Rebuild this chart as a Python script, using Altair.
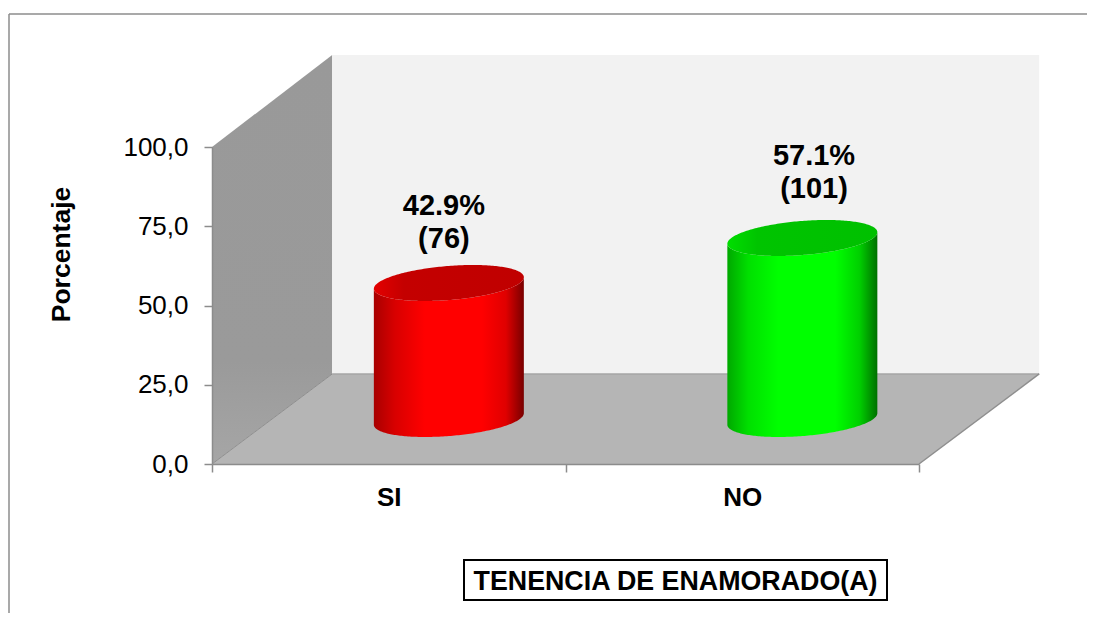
import numpy as np
import pandas as pd
import altair as alt

# ---- chart values ----
categories = ["SI", "NO"]
percents = [42.9, 57.1]
counts = [76, 101]
label_x = [0.656, 1.703]     # where the data labels sit on the category axis
label_y = [81.4, 97.1]       # and on the percentage axis
body_colors = [
    ["#a80000", "#d80000", "#ff0000", "#ff0000", "#e00000", "#780000"],
    ["#00a800", "#00e000", "#00ff00", "#00ff00", "#00d000", "#007000"],
]
lid_colors = [["#e40000", "#c40000", "#c00000"], ["#00de00", "#00c400", "#00c000"]]
y_ticks = [0, 25, 50, 75, 100]

# ---- scales of the plot area ----
X_DOMAIN = [0, 2]
Y_DOMAIN = [0, 100]
PLOT_W, PLOT_H = 707, 317
ux, uy = PLOT_W / 2, PLOT_H / 100      # pixels per unit

DEPTH_X, DEPTH_Y = 0.34, 28.4          # depth of the 3-D box in axis units
WALL_TOP = 129.0

xs = alt.Scale(domain=X_DOMAIN, nice=False, zero=False)
ys = alt.Scale(domain=Y_DOMAIN, nice=False, zero=False)
X = alt.X("x:Q", scale=xs)
Y = alt.Y("y:Q", scale=ys)


def area(df, **mark):
    return alt.Chart(df).mark_area(**mark).encode(x=X, y=Y, y2="y2:Q")


def lines(df, **mark):
    return alt.Chart(df).mark_line(**mark).encode(x=X, y=Y)


def grad(colors, stops, x1=0, x2=1, y1=0, y2=0):
    return alt.LinearGradient(
        gradient="linear",
        stops=[alt.GradientStop(offset=o, color=c) for o, c in zip(stops, colors)],
        x1=x1, x2=x2, y1=y1, y2=y2,
    )


left_wall = area(
    pd.DataFrame({"x": [0, DEPTH_X], "y": [0, DEPTH_Y], "y2": [100, WALL_TOP]}),
    color=grad(["#a6a6a6", "#9a9a9a", "#999999"], [0, 0.25, 1], x1=0, x2=0, y1=1, y2=0),
)
back_wall = area(
    pd.DataFrame({"x": [DEPTH_X, 2 + DEPTH_X], "y": [DEPTH_Y, DEPTH_Y], "y2": [WALL_TOP, WALL_TOP]}),
    color="#f2f2f2",
)
floor = area(
    pd.DataFrame({"x": [0, DEPTH_X, 2, 2 + DEPTH_X],
                  "y": [0, 0, 0, DEPTH_Y],
                  "y2": [0, DEPTH_Y, DEPTH_Y, DEPTH_Y]}),
    color="#b5b5b5",
)
floor_edges = [
    lines(pd.DataFrame({"x": [0, DEPTH_X], "y": [0, DEPTH_Y]}), color="#8e8e8e", strokeWidth=1),
    lines(pd.DataFrame({"x": [DEPTH_X, 2 + DEPTH_X], "y": [DEPTH_Y, DEPTH_Y]}), color="#a6a6a6", strokeWidth=1.5),
    lines(pd.DataFrame({"x": [2, 2 + DEPTH_X], "y": [0, DEPTH_Y]}), color="#8e8e8e", strokeWidth=1.5),
]

# Cylinder: a circle lying on the floor, sheared along the depth direction
R_PX = 75.0
RISE_PX = 18.0
PHI = np.arctan2(24.0, 71.0)
theta = np.linspace(0, np.pi, 121)
u = R_PX * np.cos(theta) / ux
upper = RISE_PX * np.sin(PHI + theta) / uy
lower = RISE_PX * np.sin(PHI - theta) / uy

cyl_layers = []
for i, pct in enumerate(percents):
    cx = i + 0.5 + DEPTH_X / 2
    cy = DEPTH_Y / 2
    body = pd.DataFrame({"x": cx + u, "y": cy + lower, "y2": cy + pct + lower}).sort_values("x")
    lid = pd.DataFrame({"x": cx + u, "y": cy + pct + lower, "y2": cy + pct + upper}).sort_values("x")
    cyl_layers.append(area(body, color=grad(body_colors[i], [0, 0.14, 0.34, 0.72, 0.88, 1])))
    cyl_layers.append(area(lid, color=grad(lid_colors[i], [0, 0.2, 1])))

labels = alt.Chart(pd.DataFrame({
    "x": label_x, "y": label_y,
    "t": [f"{p}%\n({c})" for p, c in zip(percents, counts)],
})).mark_text(font="Liberation Sans", fontWeight="bold", fontSize=29, lineBreak="\n",
              lineHeight=33, color="#000000", baseline="middle", align="center").encode(
    x=X, y=Y, text="t:N",
)

one = pd.DataFrame({"x": [0], "y": [0]})
title_box = alt.Chart(one).mark_rect(fill="white", stroke="#000000", strokeWidth=2).encode(
    x=alt.value(252), x2=alt.value(675), y=alt.value(413), y2=alt.value(453),
)
frame_top = alt.Chart(one).mark_rule(color="#8c8c8c", strokeWidth=1.5).encode(
    x=alt.value(-203), x2=alt.value(875), y=alt.value(-133),
)
frame_left = alt.Chart(one).mark_rule(color="#8c8c8c", strokeWidth=1.5).encode(
    x=alt.value(-203), y=alt.value(-133), y2=alt.value(466),
)

# Axes
axes = alt.Chart(one).mark_point(opacity=0).encode(
    x=alt.X("x:Q", scale=xs, title="TENENCIA DE ENAMORADO(A)",
            axis=alt.Axis(
                values=[0, 0.5, 1, 1.5, 2], grid=False, domainColor="#8c8c8c", domainWidth=1.5,
                tickColor="#8c8c8c", tickWidth=1.5, tickSize=8,
                tickOpacity={"condition": {"test": "datum.value % 1 === 0", "value": 1}, "value": 0},
                labelExpr="datum.value === 0.5 ? 'SI' : datum.value === 1.5 ? 'NO' : ''",
                labelFont="Liberation Sans", labelFontSize=26, labelFontWeight="bold",
                labelColor="#000000", labelPadding=12, labelAngle=0, labelOverlap=False,
                labelFlush=False,
                titleFont="Liberation Sans", titleFontSize=26.8, titleFontWeight="bold",
                titleColor="#000000", titleX=463, titleY=117, titleAlign="center",
                titleBaseline="middle", zindex=2)),
    y=alt.Y("y:Q", scale=ys, title="Porcentaje",
            axis=alt.Axis(
                values=y_ticks, grid=False, domainColor="#8c8c8c", domainWidth=1.5,
                tickColor="#8c8c8c", tickWidth=1.5, tickSize=8,
                labelExpr="replace(format(datum.value, '.1f'), '.', ',')",
                labelFont="Liberation Sans", labelFontSize=26, labelColor="#000000",
                labelPadding=16, labelOverlap=False, labelFlush=False,
                titleFont="Liberation Sans", titleFontSize=26.5, titleFontWeight="bold",
                titleColor="#000000", titleX=-137, titleY=107, titleAngle=270,
                titleAlign="center", zindex=2)),
)

chart = alt.layer(
    axes, frame_top, frame_left,
    left_wall, back_wall, floor, *floor_edges,
    *cyl_layers,
    labels, title_box,
).properties(
    width=PLOT_W, height=PLOT_H,
    padding={"left": 204, "top": 139, "right": 168, "bottom": 149},
    autosize=alt.AutoSizeParams(type="none"),
    background="white",
).configure_view(stroke=None)

chart.save("out.html", embed_options={"renderer": "svg", "actions": False})
